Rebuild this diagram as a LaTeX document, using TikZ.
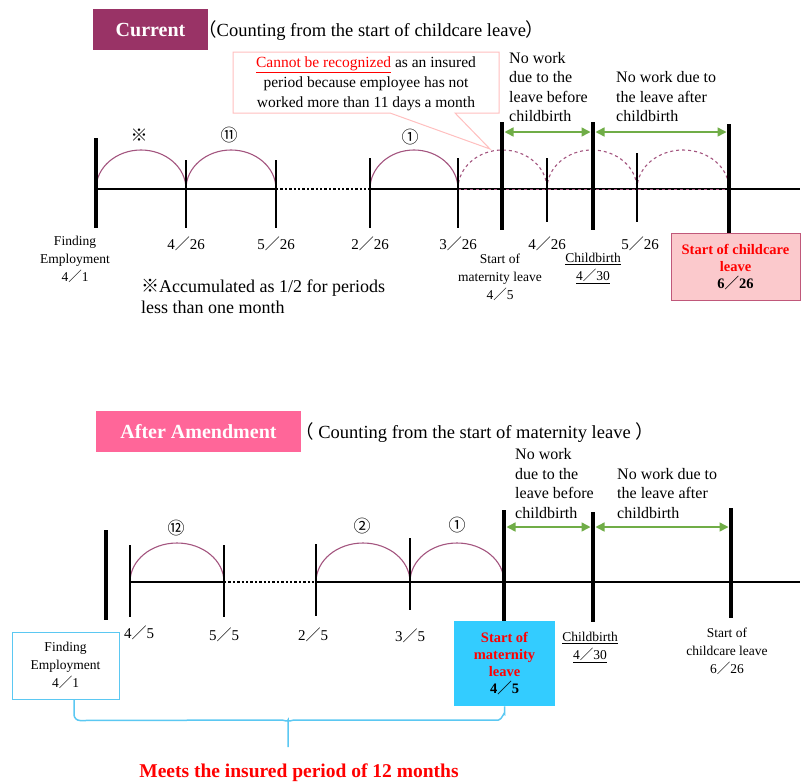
\documentclass[tikz,border=0pt]{standalone}
\usepackage{fontspec}
\setmainfont{Liberation Serif}
\newfontfamily\cjk{Noto Sans CJK JP}
\usetikzlibrary{positioning,arrows.meta}
\definecolor{humpcol}{HTML}{A3557F}
\definecolor{curcol}{HTML}{993366}
\definecolor{amdcol}{HTML}{FF6699}
\definecolor{leafcol}{HTML}{70AD47}
\definecolor{notecol}{HTML}{FFBFBF}
\definecolor{rosefill}{HTML}{FBC9CC}
\definecolor{roseline}{HTML}{C0587A}
\definecolor{skycol}{HTML}{33CCFF}
\definecolor{skyline}{HTML}{5BC8F2}
\definecolor{alert}{HTML}{FF0000}
\newcommand{\sla}{{\cjk ／}}

\begin{document}
\begin{tikzpicture}[x=1pt, y=-1pt, node distance=44pt,
      base/.style={line width=2.4pt},
      gap/.style={line width=2.4pt, dotted},
      tk/.style={line width=1.5pt},
      pole/.style={line width=4.5pt},
      hump/.style={draw=humpcol, line width=1.1pt},
      lost/.style={hump, dashed},
      span/.style={draw=leafcol, line width=1.5pt, shorten <=2.5pt, shorten >=2.5pt,
        {Triangle[length=9pt,width=9pt]}-{Triangle[length=9pt,width=9pt]}},
      date/.style={font=\fontsize{15}{18}\selectfont},
      sml/.style={font=\fontsize{13.5}{18}\selectfont, align=center},
      nw/.style={font=\fontsize{16}{19.5}\selectfont, align=left, anchor=north west, inner sep=0pt},
      head/.style={text=white, font=\fontsize{20}{24}\selectfont\bfseries, minimum height=41pt, inner sep=0pt},
      sym/.style={font=\cjk\fontsize{17}{19}\selectfont}]
      \useasboundingbox (0,0) rectangle (802,782);

      % current rule
      \node (cur) [head, fill=curcol, minimum width=115pt] at (150.5,29.5) {Current};
      \node (cur2) [anchor=west, inner sep=0pt, font=\fontsize{18.5}{22}\selectfont] at (198,31)
        {{\cjk（}Counting from the start of childcare leave{\cjk）}};

      \draw[notecol, line width=1pt, fill=white] (233,52) -- (499,52) -- (499,113) -- (455,113)
        -- (490,149) -- (390,113) -- (233,113) -- cycle;
      \node (note) [font=\fontsize{15.5}{20}\selectfont, align=center] at (366,84)
        {\textcolor{alert}{\underline{Cannot be recognized}} as an insured\\period because employee has not\\worked more than 11 days a month};

      \node (nw1) [nw] at (509,52) {No work\\due to the\\leave before\\childbirth};
      \node (nw2) [nw] at (616,71.5) {No work due to\\the leave after\\childbirth};

      \coordinate (p0) at (96,189);
      \coordinate (p1) at (186,189);
      \coordinate (p2) at (276,189);
      \coordinate (p3) at (370,189);
      \coordinate (p4) at (458,189);
      \coordinate (p5) at (502,189);
      \coordinate (p6) at (547,189);
      \coordinate (p7) at (593,189);
      \coordinate (p8) at (637,189);
      \coordinate (p9) at (729,189);
      \coordinate (pe) at (800,189);

      \draw[base] (p0) -- (p2);
      \draw[gap] (p2) -- (p3);
      \draw[base] (p3) -- (pe);
      \draw[lost, line width=0.8pt] (p4) -- (p9);

      \draw[hump] (p0) arc[start angle=180, end angle=360, x radius=45, y radius=39];
      \draw[hump] (p1) arc[start angle=180, end angle=360, x radius=45, y radius=39];
      \draw[hump] (p3) arc[start angle=180, end angle=360, x radius=44, y radius=39];
      \draw[lost] (p4) arc[start angle=180, end angle=360, x radius=44.5, y radius=39];
      \draw[lost] (p6) arc[start angle=180, end angle=360, x radius=45, y radius=39];
      \draw[lost] (p8) arc[start angle=180, end angle=360, x radius=46, y radius=39];

      \draw[pole] ([yshift=51pt]p0) -- ([yshift=-39pt]p0);
      \draw[tk] ([yshift=29pt]p1) -- ([yshift=-39pt]p1);
      \draw[tk] ([yshift=29pt]p2) -- ([yshift=-39pt]p2);
      \draw[tk] ([yshift=31pt]p3) -- ([yshift=-39pt]p3);
      \draw[tk] ([yshift=31pt]p4) -- ([yshift=-39pt]p4);
      \draw[pole] ([yshift=67pt]p5) -- ([yshift=-41pt]p5);
      \draw[tk] ([yshift=31pt]p6) -- ([yshift=-33pt]p6);
      \draw[pole] ([yshift=67pt]p7) -- ([yshift=-41pt]p7);
      \draw[tk] ([yshift=36pt]p8) -- ([yshift=-33pt]p8);

      \draw[span] ([yshift=57pt]p5) -- ([yshift=57pt]p7);
      \draw[span] ([yshift=57pt]p7) -- ([yshift=57pt]p9);

      \node (s1) [sym] at (139,135) {※};
      \node (s2) [sym] at (229,135) {⑪};
      \node (s3) [sym] at (410,137) {①};

      \node (fe1) [sml, below=of p0, xshift=-21pt] {Finding\\Employment\\4\sla 1};
      \node (d1) [date, below=of p1] {4\sla 26};
      \node (d2) [date, below=of p2] {5\sla 26};
      \node (d3) [date, below=of p3] {2\sla 26};
      \node (d4) [date, below=of p4] {3\sla 26};
      \node (ml1) [sml, below=61pt of p5, xshift=-2pt] {Start of\\maternity leave\\4\sla 5};
      \node (d6) [date, below=of p6] {4\sla 26};
      \node (cb1) [sml, below=61pt of p7] {\underline{Childbirth}\\\underline{4\sla 30}};
      \node (d8) [date, below=of p8, xshift=3pt] {5\sla 26};
      \node (cc1) [sml, font=\fontsize{14.5}{17}\selectfont\bfseries, fill=rosefill, draw=roseline,
        line width=1pt, minimum width=129pt, minimum height=67pt, below=of p9, xshift=6.5pt]
        {\textcolor{alert}{Start of childcare}\\\textcolor{alert}{leave}\\6\sla 26};
      \draw[pole] ([yshift=65pt]p9) -- (cc1.north -| p9);

      \node (acc) [anchor=north west, align=left, inner sep=0pt, font=\fontsize{18}{21}\selectfont] at (141,279)
        {{\cjk ※}Accumulated as 1/2 for periods\\less than one month};

      % after amendment
      \node (amd) [head, fill=amdcol, minimum width=205pt] at (198.5,431.5) {After Amendment};
      \node (amd2) [anchor=west, inner sep=0pt, font=\fontsize{18.5}{22}\selectfont] at (295,433)
        {{\cjk（} Counting from the start of maternity leave {\cjk）}};

      \node (nw3) [nw] at (515,448.5) {No work\\due to the\\leave before\\childbirth};
      \node (nw4) [nw] at (617,468) {No work due to\\the leave after\\childbirth};

      \coordinate (q0) at (106,582);
      \coordinate (q1) at (130,582);
      \coordinate (q2) at (224,582);
      \coordinate (q3) at (316,582);
      \coordinate (q4) at (410,582);
      \coordinate (q5) at (504,582);
      \coordinate (q6) at (593,582);
      \coordinate (q7) at (731,582);
      \coordinate (qe) at (800,582);

      \draw[base] (q1) -- (q2);
      \draw[gap] (q2) -- (q3);
      \draw[base] (q3) -- (qe);

      \draw[hump] (q1) arc[start angle=180, end angle=360, x radius=47, y radius=39];
      \draw[hump] (q3) arc[start angle=180, end angle=360, x radius=47, y radius=39];
      \draw[hump] (q4) arc[start angle=180, end angle=360, x radius=47, y radius=39];

      \draw[pole] ([yshift=52pt]q0) -- ([yshift=-38pt]q0);
      \draw[tk] ([yshift=37pt]q1) -- ([yshift=-35pt]q1);
      \draw[tk] ([yshift=37pt]q2) -- ([yshift=-35pt]q2);
      \draw[tk] ([yshift=38pt]q3) -- ([yshift=-34pt]q3);
      \draw[tk] ([yshift=44pt]q4) -- ([yshift=-28pt]q4);
      \draw[pole] ([yshift=70pt]q6) -- ([yshift=-40pt]q6);
      \draw[pole] ([yshift=74pt]q7) -- ([yshift=-36pt]q7);

      \draw[span] ([yshift=55pt]q5) -- ([yshift=55pt]q6);
      \draw[span] ([yshift=55pt]q6) -- ([yshift=55pt]q7);

      \node (s4) [sym] at (176,528) {⑫};
      \node (s5) [sym] at (362,526) {②};
      \node (s6) [sym] at (457,525) {①};

      \node (e1) [date, below=40pt of q1, xshift=9pt] {4\sla 5};
      \node (e2) [date, below=42pt of q2] {5\sla 5};
      \node (e3) [date, below=42pt of q3, xshift=-3pt] {2\sla 5};
      \node (e4) [date, below=43pt of q4] {3\sla 5};
      \node (ml2) [sml, font=\fontsize{14.5}{17}\selectfont\bfseries, fill=skycol, minimum width=101pt,
        minimum height=85pt, below=39pt of q5, xshift=0.5pt]
        {\textcolor{alert}{Start of}\\\textcolor{alert}{maternity}\\\textcolor{alert}{leave}\\4\sla 5};
      \draw[pole] ([yshift=72pt]q5) -- (ml2.north -| q5);
      \node (cb2) [sml, below=47pt of q6, xshift=-3pt] {\underline{Childbirth}\\\underline{4\sla 30}};
      \node (cc2) [sml, below=42pt of q7, xshift=-4pt] {Start of\\childcare leave\\6\sla 26};
      \node (fe2) [sml, draw=skyline, line width=1pt, minimum width=107pt, minimum height=67pt]
        at (65.5,665.5) {Finding\\Employment\\4\sla 1};

      \coordinate (bm) at (288,720);
      \coordinate (bt) at (288,747);
      \draw[skyline, line width=1.5pt] ([xshift=8.5pt]fe2.south) -- ++(0,15) to[out=-90, in=180] ++(6,6)
        -- (282,720) to[out=0, in=-90] (bm) -- (bt);
      \draw[skyline, line width=1.5pt] (bm) to[out=-90, in=180] (294,720) -- (498.5,720)
        to[out=0, in=90] (504.5,714) -- (ml2.south);
      \node (meet) [below=40pt of bm, xshift=11pt, font=\fontsize{19.5}{22}\selectfont\bfseries, text=alert]
        {Meets the insured period of 12 months};
\end{tikzpicture}
\end{document}
